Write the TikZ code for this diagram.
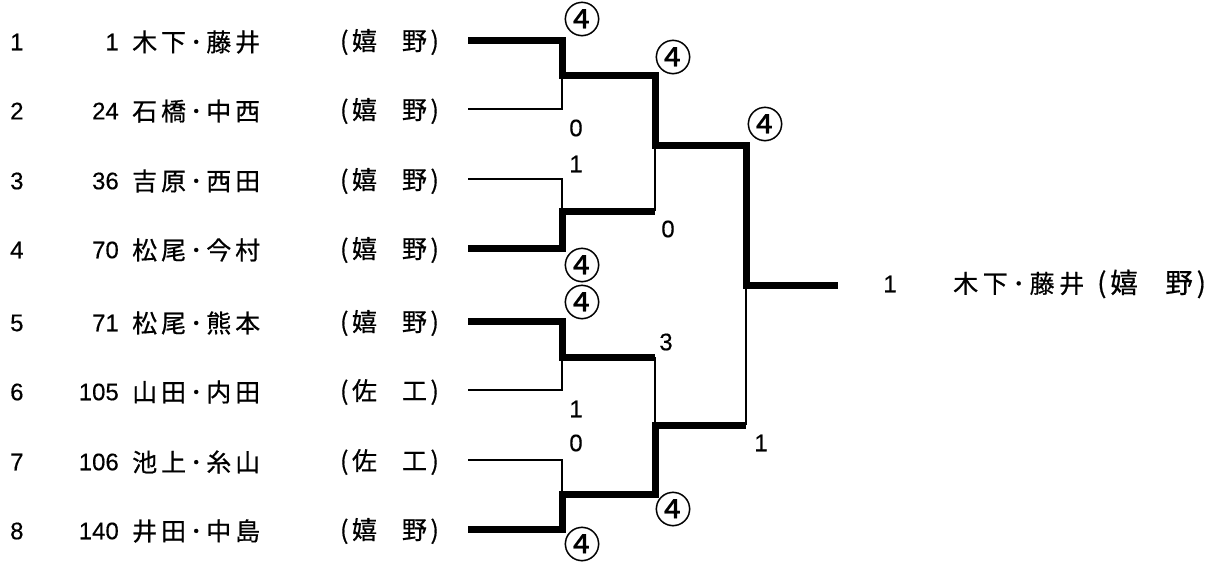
\documentclass[tikz,border=0pt]{standalone}
\usepackage{fontspec}
\setmainfont{Noto Sans CJK JP}[FakeBold=0.6]
\newfontfamily\latf{Liberation Sans}[FakeBold=0.3]
\newcommand\nmbox[6]{\makebox[#1][s]{#2\hfill#3\hfill#4\hfill#5\hfill#6}}
\newcommand\schl[2]{(\kern0.14em#1　#2\kern0.14em)}
\begin{document}
\begin{tikzpicture}[x=1pt,y=-1pt,
  win/.style={line width=7pt},
  lose/.style={line width=2pt},
  txt/.style={inner sep=0pt, font=\fontsize{25}{30}\selectfont},
  num/.style={inner sep=0pt, font=\latf\fontsize{24}{28}\selectfont},
  ci/.style={inner sep=0pt, font=\fontsize{37}{42}\selectfont}]
\useasboundingbox (0,0) rectangle (1208,562);
% entries
\foreach \i/\y/\s/\a/\b/\c/\d/\e/\f in {
  1/40/1/木/下/藤/井/嬉/野,
  2/109/24/石/橋/中/西/嬉/野,
  3/179/36/吉/原/西/田/嬉/野,
  4/248/70/松/尾/今/村/嬉/野,
  5/321/71/松/尾/熊/本/嬉/野,
  6/390/105/山/田/内/田/佐/工,
  7/460/106/池/上/糸/山/佐/工,
  8/529/140/井/田/中/島/嬉/野}{
  \node[num,anchor=west] (n\i) at (10,\y+2) {\i};
  \node[num,anchor=east] (s\i) at (119,\y+2) {\s};
  \node[txt,anchor=west] (p\i) at (132,\y+2) {\nmbox{128pt}{\a}{\b}{･}{\c}{\d}};
  \node[txt] (c\i) at (389.5,\y+2) {\schl{\e}{\f}};
  \coordinate (e\i) at (468,\y);
}
% junctions
\coordinate (a1) at (562,75);
\coordinate (a2) at (562,211);
\coordinate (a3) at (562,357);
\coordinate (a4) at (562,494);
\coordinate (b1) at (655,145);
\coordinate (b2) at (655,425);
\coordinate (c) at (746,285);
\coordinate (f) at (838,285);
% losers
\draw[lose] (e2) -| (a1);
\draw[lose] (e3) -| (a2);
\draw[lose] (e6) -| (a3);
\draw[lose] (e7) -| (a4);
\draw[lose] (a2 -| b1) -- (b1);
\draw[lose] (a3 -| b2) -- (b2);
\draw[lose] (b2 -| c) -- (c);
% winners
\draw[win] (e1) -| (a1) -| (b1) -| (c) -- (f);
\draw[win] (e4) -| (a2) -- (a2 -| b1);
\draw[win] (e5) -| (a3) -- (a3 -| b2);
\draw[win] (e8) -| (a4) -| (b2) -- (b2 -| c);
% scores
\node[ci] (k1) at (582,19) {④};
\node[num] (k2) at (576,128) {0};
\node[num] (k3) at (576,164) {1};
\node[ci] (k4) at (582,265) {④};
\node[ci] (k5) at (673,57) {④};
\node[num] (k6) at (668,229) {0};
\node[ci] (k7) at (765,124) {④};
\node[ci] (k8) at (582,302) {④};
\node[num] (k9) at (576,409) {1};
\node[num] (k10) at (576,443) {0};
\node[ci] (k11) at (582,544) {④};
\node[num] (k12) at (666,342) {3};
\node[ci] (k13) at (673,509) {④};
\node[num] (k14) at (761,443) {1};
% result
\node[num] (w1) at (890,284) {1};
\node[txt,anchor=west] (w2) at (953,284) {\nmbox{131pt}{木}{下}{･}{藤}{井}\kern13pt{\fontsize{27.5}{32}\selectfont\schl{嬉}{野}}};
\end{tikzpicture}
\end{document}
